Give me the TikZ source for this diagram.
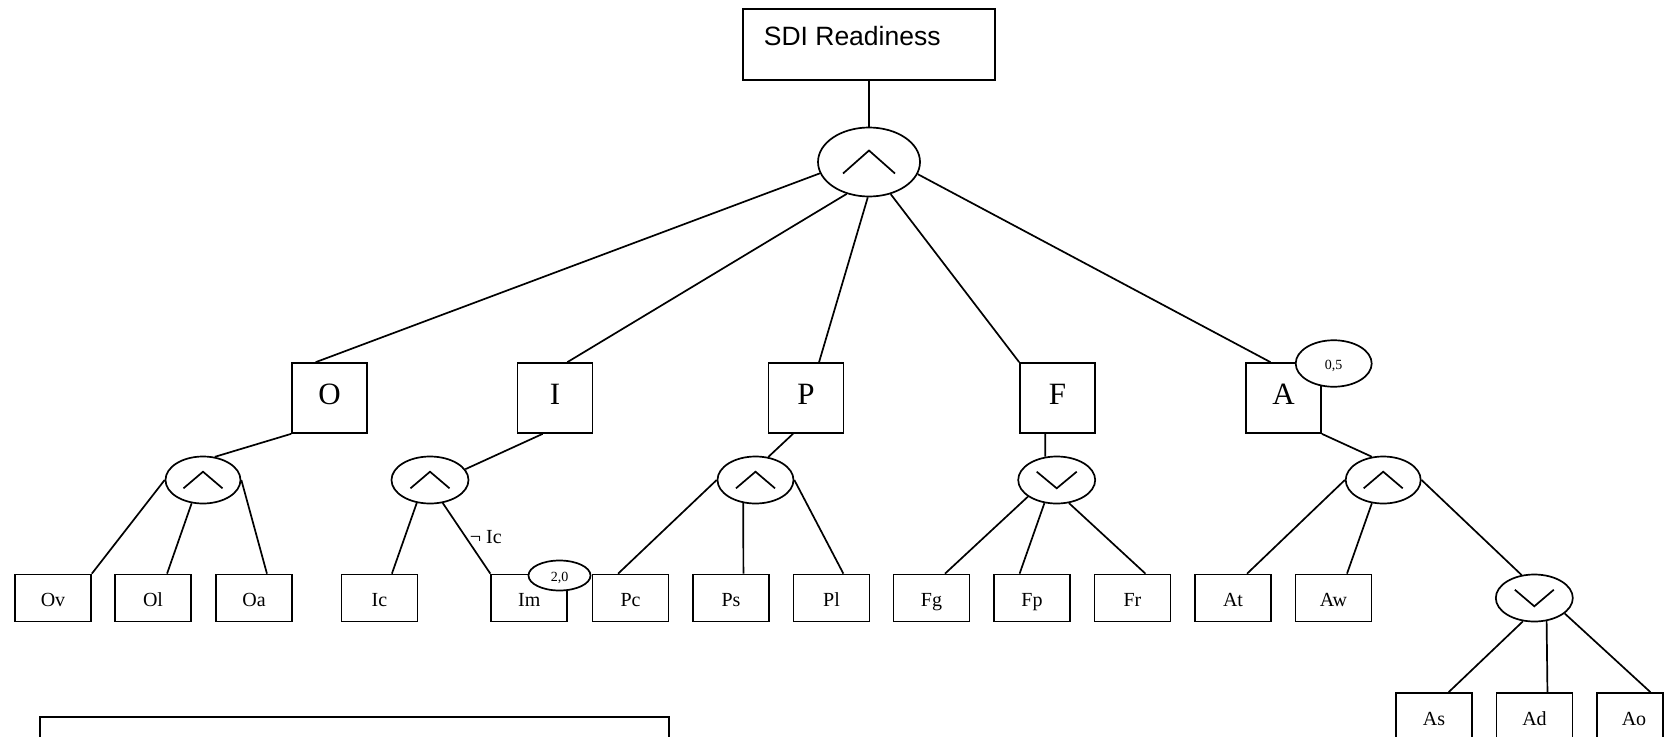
\documentclass[tikz,border=0pt]{standalone}
\usepackage{fontspec}
\setmainfont{Liberation Serif}
\newfontfamily\arialfont{Liberation Sans}
\usetikzlibrary{shapes.geometric}
\newcommand\andmark[3]{\draw ([shift={(-#2,#3)}]#1.center) -- ([shift={(0,-#3)}]#1.center) -- ([shift={(#2,#3)}]#1.center);}
\newcommand\ormark[3]{\draw ([shift={(-#2,-#3)}]#1.center) -- ([shift={(0,#3)}]#1.center) -- ([shift={(#2,-#3)}]#1.center);}
\begin{document}
\begin{tikzpicture}[x=1pt,y=-1pt,line width=1.7pt,
  bigbox/.style={draw,rectangle,minimum width=75pt,minimum height=70pt,inner sep=0pt,text height=21pt,text depth=8pt,font=\fontsize{31}{31}\selectfont},
  leafbox/.style={draw,rectangle,minimum width=76pt,minimum height=47pt,inner sep=0pt,text height=17.4pt,text depth=0pt,font=\fontsize{20}{20}\selectfont},
  gate/.style={draw,ellipse,minimum width=76pt,minimum height=47pt,inner sep=0pt},
  wt/.style={draw,ellipse,fill=white,inner sep=0pt,text height=11pt,text depth=0pt,font=\fontsize{14}{14}\selectfont}]
\useasboundingbox (0,0) rectangle (1664,736);
\clip (0,0) rectangle (1664,736);
% top
\node[draw,rectangle,minimum width=252pt,minimum height=71pt,inner sep=0pt] (sdi) at (869,44.5) {};
\node[anchor=base west,inner sep=0pt,font=\arialfont\fontsize{26.5}{26.5}\selectfont] (sdit) at (763,45.5) {SDI Readiness};
\node[gate,minimum width=102pt,minimum height=69pt] (root) at (869,162) {};
\andmark{root}{26}{11.5}
% level 1
\node[bigbox] (O) at (329.5,398) {O};
\node[bigbox] (I) at (555,398) {I};
\node[bigbox] (P) at (806,398) {P};
\node[bigbox] (F) at (1057.5,398) {F};
\node[bigbox] (A) at (1283.5,398) {A};
\node[wt,minimum width=76pt,minimum height=46.5pt] (wA) at (1333.7,363.5) {0,5};
% level 2 gates
\node[gate,minimum width=75pt] (Oe) at (203,480) {};
\node[gate,minimum width=77pt] (Ie) at (430,480) {};
\node[gate,minimum width=76pt] (Pe) at (755.5,480) {};
\node[gate,minimum width=77pt] (Fe) at (1056.7,480) {};
\node[gate,minimum width=75pt] (Ae) at (1383.2,480) {};
\node[gate,minimum width=77pt] (Ve) at (1534.3,598) {};
\andmark{Oe}{19.5}{8.3}
\andmark{Ie}{19.5}{8.3}
\andmark{Pe}{19.5}{8.3}
\ormark{Fe}{20}{8.3}
\andmark{Ae}{19.5}{8.3}
\ormark{Ve}{19.5}{8.3}
% leaves
\node[leafbox] (Ov) at (53,598) {Ov};
\node[leafbox] (Ol) at (153,598) {Ol};
\node[leafbox] (Oa) at (254,598) {Oa};
\node[leafbox] (Ic) at (379.5,598) {Ic};
\node[leafbox] (Im) at (529.2,598) {Im};
\node[leafbox] (Pc) at (630.5,598) {Pc};
\node[leafbox] (Ps) at (731,598) {Ps};
\node[leafbox] (Pl) at (831.5,598) {Pl};
\node[leafbox] (Fg) at (931.5,598) {Fg};
\node[leafbox] (Fp) at (1032,598) {Fp};
\node[leafbox] (Fr) at (1132.5,598) {Fr};
\node[leafbox] (At) at (1233,598) {At};
\node[leafbox] (Aw) at (1333.5,598) {Aw};
\node[leafbox] (As) at (1434,716.5) {As};
\node[leafbox] (Ad) at (1534.5,716.5) {Ad};
\node[leafbox,minimum width=66pt] (Ao) at (1630,716.5) {\hspace*{8pt}Ao};
\node[wt,minimum width=62pt,minimum height=30pt] (wIm) at (559.5,575.5) {2,0};
\node[anchor=base west,inner sep=0pt,font=\fontsize{20}{20}\selectfont] (notIc) at (469,543.5) {\char"00AC\ Ic};
% legend box (cut by the page edge)
\node[draw,rectangle,anchor=north west,minimum width=629pt,minimum height=60pt,inner sep=0pt] (legend) at (39,716) {};
% connectors
\draw (sdi.south) -- (root.north);
\draw (root.193) -- (O.111);
\draw (root.235) -- (I.71);
\draw (root.268) -- (P.70);
\draw (root.304) -- (F.north west);
\draw (root.346) -- (A.110);
\draw (O.south west) -- (Oe.63);
\draw (I.251) -- (Ie.17);
\draw (P.250) -- (Pe.61);
\draw (F.251) -- (Fe.116);
\draw (A.south east) -- (Ae.116);
\draw (Oe.west) -- (Ov.north east);
\draw (Oe.244) -- (Ol.60);
\draw (Oe.east) -- (Oa.62);
\draw (Ie.240) -- (Ic.63);
\draw (Ie.299) -- (Im.north west);
\draw (Pe.west) -- (Pc.117);
\draw (Pe.242) -- (Ps.63);
\draw (Pe.east) -- (Pl.64);
\draw (Fe.210) -- (Fg.61);
\draw (Fe.242) -- (Fp.117);
\draw (Fe.298) -- (Fr.62);
\draw (Ae.west) -- (At.60);
\draw (Ae.244) -- (Aw.61);
\draw (Ae.east) -- (Ve.119);
\draw (Ve.244) -- (As.59);
\draw (Ve.298) -- (Ad.62);
\draw (Ve.333) -- (Ao.50);
\end{tikzpicture}
\end{document}
